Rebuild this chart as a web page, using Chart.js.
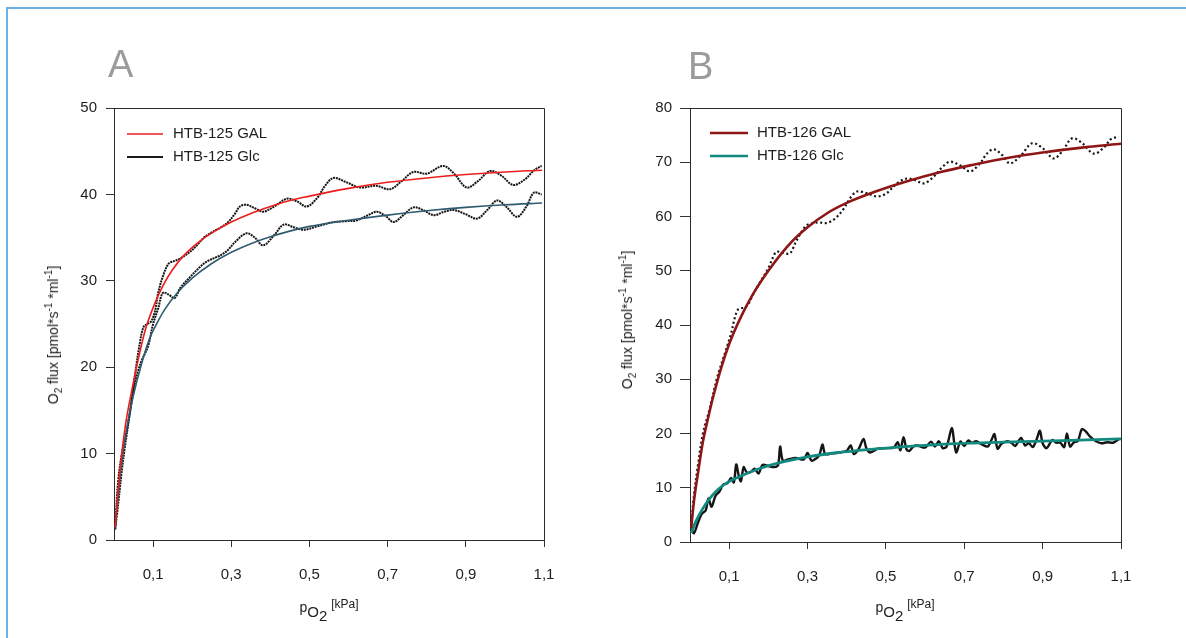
<!DOCTYPE html>
<html>
<head>
<meta charset="utf-8">
<script src="https://cdn.jsdelivr.net/npm/chart.js@4.4.1/dist/chart.umd.min.js"></script>
<style>
  body { margin: 0; background: #fff; font-family: "Liberation Sans", Arial, sans-serif; }
  #page { position: relative; width: 1186px; height: 638px; overflow: hidden; background: #fff; }
  .frame { position: absolute; left: 6px; top: 7px; width: 1300px; height: 800px; border: 2px solid #6cb2e4; }
  canvas { position: absolute; top: 0; }
  .panel { position: absolute; font-size: 38px; color: #9b9b9b; line-height: 1; }
  .ytitle { position: absolute; font-size: 14px; color: #222; white-space: nowrap;
            transform: translate(-50%, -50%) rotate(-90deg); }
  .xtitle { position: absolute; font-size: 14px; color: #222; white-space: nowrap; transform: translate(-50%, -50%); }
  sub, sup { font-size: 10px; line-height: 0; }
  .xtitle .o2 { font-size: 15px; position: relative; top: 5px; }
  .xtitle .o2 sub { font-size: 15px; }
  .xtitle .kpa { font-size: 12px; position: relative; top: -4px; }
</style>
</head>
<body>
<div id="page">
  <div class="frame"></div>
  <canvas id="chartA" width="600" height="638" style="left:0"></canvas>
  <canvas id="chartB" width="586" height="638" style="left:600px"></canvas>

  <div class="panel" style="left:108px; top:45px;">A</div>
  <div class="panel" style="left:688px; top:47px;">B</div>

  <div class="ytitle" style="left:53px; top:335px;">O<sub>2</sub> flux [pmol*s<sup>-1</sup> *ml<sup>-1</sup>]</div>
  <div class="ytitle" style="left:627px; top:320px;">O<sub>2</sub> flux [pmol*s<sup>-1</sup> *ml<sup>-1</sup>]</div>

  <div class="xtitle" style="left:329px; top:606px;">p<span class="o2">O<sub>2</sub></span> <span class="kpa">[kPa]</span></div>
  <div class="xtitle" style="left:905px; top:606px;">p<span class="o2">O<sub>2</sub></span> <span class="kpa">[kPa]</span></div>
</div>

<script>
// ---- shared axis ticks ----
const xTicks = [0.1, 0.3, 0.5, 0.7, 0.9, 1.1];
const yTicksA = [0, 10, 20, 30, 40, 50];
const yTicksB = [0, 10, 20, 30, 40, 50, 60, 70, 80];

// ---- panel A: HTB-125 ----
const legendA = ["HTB-125 GAL", "HTB-125 Glc"];

// measured traces (dotted black)
const galDataA_x = [0.003, 0.01, 0.02, 0.033, 0.045, 0.055, 0.065, 0.075, 0.085, 0.095, 0.105, 0.113, 0.125, 0.14, 0.155, 0.17, 0.19, 0.21, 0.23, 0.25, 0.27, 0.29, 0.31, 0.322, 0.339, 0.36, 0.382, 0.41, 0.442, 0.468, 0.493, 0.52, 0.54, 0.561, 0.59, 0.629, 0.67, 0.706, 0.735, 0.766, 0.8, 0.842, 0.87, 0.902, 0.93, 0.962, 0.99, 1.021, 1.05, 1.075, 1.094];
const galDataA_y = [1.2, 6.5, 10.0, 12.8, 16.0, 19.5, 22.5, 24.6, 25.0, 25.3, 26.5, 28.6, 30.5, 32.0, 32.3, 32.6, 33.2, 34.0, 35.0, 35.6, 36.1, 36.7, 37.8, 38.6, 38.8, 38.4, 38.0, 38.6, 39.5, 39.2, 38.6, 39.6, 41.0, 41.9, 41.5, 40.8, 41.0, 40.6, 41.5, 42.6, 42.4, 43.3, 42.4, 40.8, 41.5, 42.7, 42.2, 41.1, 41.7, 42.8, 43.3];

const glcDataA_x = [0.003, 0.008, 0.02, 0.028, 0.04, 0.049, 0.06, 0.071, 0.087, 0.1, 0.113, 0.125, 0.14, 0.155, 0.17, 0.194, 0.22, 0.24, 0.27, 0.29, 0.31, 0.339, 0.36, 0.382, 0.41, 0.434, 0.46, 0.485, 0.52, 0.561, 0.595, 0.621, 0.65, 0.672, 0.695, 0.715, 0.74, 0.766, 0.79, 0.818, 0.845, 0.869, 0.9, 0.929, 0.955, 0.98, 1.005, 1.031, 1.055, 1.074, 1.094];
const glcDataA_y = [1.3, 3.1, 8.0, 10.8, 14.5, 17.2, 19.3, 20.8, 22.4, 25.0, 26.8, 28.6, 28.4, 28.0, 29.2, 30.4, 31.6, 32.3, 32.9, 33.5, 34.5, 35.5, 35.0, 34.1, 35.3, 36.5, 36.2, 35.9, 36.3, 36.8, 36.9, 37.0, 37.6, 38.0, 37.5, 36.8, 37.6, 38.5, 38.2, 37.6, 38.0, 38.2, 37.7, 37.2, 38.2, 39.3, 38.5, 37.4, 38.6, 40.2, 40.0];

// fitted curves
const galFitA_x = [0.003, 0.01, 0.02, 0.03, 0.045, 0.06, 0.08, 0.1, 0.125, 0.15, 0.18, 0.22, 0.26, 0.3, 0.35, 0.4, 0.45, 0.5, 0.6, 0.7, 0.8, 0.9, 1.0, 1.095];
const galFitA_y = [1.5, 5.5, 10.0, 13.5, 17.2, 20.5, 24.3, 26.9, 29.4, 31.3, 33.0, 34.6, 35.8, 36.8, 37.8, 38.6, 39.3, 39.8, 40.7, 41.4, 41.9, 42.3, 42.6, 42.8];

const glcFitA_x = [0.003, 0.01, 0.02, 0.035, 0.05, 0.07, 0.09, 0.11, 0.13, 0.16, 0.2, 0.25, 0.3, 0.35, 0.4, 0.5, 0.6, 0.7, 0.8, 0.9, 1.0, 1.095];
const glcFitA_y = [1.3, 5.0, 9.0, 13.5, 16.8, 20.3, 23.2, 25.1, 26.7, 28.5, 30.3, 32.0, 33.3, 34.3, 35.1, 36.3, 37.0, 37.6, 38.1, 38.5, 38.8, 39.0];

// ---- panel B: HTB-126 ----
const legendB = ["HTB-126 GAL", "HTB-126 Glc"];

const galDataB_x = [0.003, 0.01, 0.02, 0.033, 0.05, 0.07, 0.09, 0.105, 0.115, 0.122, 0.13, 0.14, 0.15, 0.16, 0.18, 0.2, 0.212, 0.221, 0.238, 0.255, 0.27, 0.285, 0.298, 0.315, 0.33, 0.349, 0.37, 0.39, 0.41, 0.426, 0.45, 0.477, 0.5, 0.53, 0.553, 0.575, 0.596, 0.62, 0.645, 0.664, 0.69, 0.715, 0.74, 0.758, 0.775, 0.797, 0.817, 0.845, 0.873, 0.9, 0.928, 0.95, 0.975, 1.0, 1.03, 1.055, 1.075, 1.094];
const galDataB_y = [3.0, 8.5, 14.0, 20.0, 24.5, 30.5, 35.0, 38.5, 41.5, 42.8, 43.1, 43.2, 44.0, 45.5, 48.0, 50.5, 52.5, 53.5, 53.3, 53.2, 55.3, 57.2, 58.4, 58.8, 58.9, 58.8, 59.6, 61.2, 63.5, 64.6, 64.3, 63.7, 64.2, 66.2, 67.0, 66.7, 66.1, 67.2, 69.2, 70.1, 69.4, 68.3, 69.8, 71.6, 72.4, 71.3, 69.8, 71.3, 73.5, 72.6, 70.7, 72.0, 74.4, 73.6, 71.6, 72.6, 74.3, 74.7];

const glcDataB_x = [0.003, 0.01, 0.02, 0.03, 0.04, 0.047, 0.055, 0.065, 0.075, 0.085, 0.095, 0.105, 0.112, 0.118, 0.125, 0.13, 0.137, 0.145, 0.155, 0.165, 0.175, 0.185, 0.2, 0.215, 0.225, 0.23, 0.237, 0.25, 0.27, 0.29, 0.3, 0.31, 0.32, 0.33, 0.338, 0.345, 0.36, 0.38, 0.4, 0.41, 0.418, 0.43, 0.443, 0.45, 0.46, 0.48, 0.5, 0.52, 0.53, 0.537, 0.545, 0.553, 0.56, 0.57, 0.58, 0.6, 0.615, 0.625, 0.635, 0.645, 0.655, 0.668, 0.675, 0.68, 0.69, 0.7, 0.71, 0.72, 0.73, 0.745, 0.76, 0.77, 0.777, 0.785, 0.795, 0.81, 0.82, 0.83, 0.845, 0.855, 0.865, 0.875, 0.885, 0.893, 0.9, 0.91, 0.925, 0.935, 0.945, 0.955, 0.962, 0.97, 0.98, 0.99, 1.0, 1.01, 1.02, 1.035, 1.05, 1.065, 1.08, 1.095];
const glcDataB_y = [2.5, 1.6, 3.5, 5.2, 5.8, 8.0, 6.5, 8.5, 9.3, 10.6, 10.8, 11.8, 11.0, 14.3, 12.0, 11.2, 13.8, 12.8, 12.9, 13.5, 12.6, 14.2, 14.0, 13.8, 14.2, 17.6, 15.0, 15.2, 15.5, 15.2, 16.4, 15.0, 15.3, 16.0, 18.0, 16.2, 16.3, 16.5, 16.8, 17.8, 16.2, 17.1, 19.0, 17.3, 16.5, 17.2, 17.3, 17.4, 18.4, 16.9, 19.3, 17.0, 16.8, 17.6, 17.8, 17.4, 18.5, 17.6, 18.6, 17.3, 17.6, 21.0, 18.0, 16.5, 18.5, 17.7, 18.7, 18.3, 18.6, 18.0, 17.6, 18.9, 19.9, 17.2, 18.1, 18.6, 18.3, 17.7, 19.2, 17.8, 18.2, 17.5, 19.0, 20.5, 18.2, 17.3, 18.8, 18.3, 18.3, 17.5, 20.0, 17.6, 18.4, 18.6, 20.8, 20.4, 19.5, 18.6, 18.2, 18.4, 18.3, 19.0];

const galFitB_x = [0.003, 0.01, 0.02, 0.033, 0.045, 0.06, 0.08, 0.1, 0.13, 0.16, 0.2, 0.25, 0.3, 0.35, 0.4, 0.47, 0.55, 0.64, 0.72, 0.81, 0.9, 1.0, 1.1];
const galFitB_y = [2.5, 7.5, 12.5, 18.5, 22.5, 27.0, 32.2, 36.5, 41.5, 45.6, 50.0, 54.6, 58.0, 60.6, 62.5, 64.5, 66.4, 68.2, 69.5, 70.8, 71.8, 72.7, 73.4];

const glcFitB_x = [0.003, 0.015, 0.033, 0.05, 0.07, 0.094, 0.128, 0.18, 0.24, 0.3, 0.38, 0.5, 0.64, 0.8, 0.95, 1.1];
const glcFitB_y = [1.7, 3.8, 6.2, 8.0, 9.6, 10.9, 12.1, 13.6, 14.8, 15.7, 16.5, 17.3, 18.0, 18.4, 18.7, 19.0];

const FONT = '"Liberation Sans", Arial, sans-serif';

function pts(xs, ys) {
  return xs.map((x, i) => ({ x: x, y: ys[i] }));
}

// top and right border of the plot box
const boxPlugin = {
  id: 'box',
  afterDraw(chart) {
    const a = chart.chartArea, ctx = chart.ctx;
    ctx.save();
    ctx.strokeStyle = '#2b2b2b';
    ctx.lineWidth = 1;
    ctx.beginPath();
    ctx.moveTo(a.left, a.top + 0.5);
    ctx.lineTo(a.right + 0.5, a.top + 0.5);
    ctx.lineTo(a.right + 0.5, a.bottom);
    ctx.stroke();
    ctx.restore();
  }
};

// legend drawn inside the plot box
const innerLegend = {
  id: 'innerLegend',
  afterDraw(chart, args, opts) {
    const a = chart.chartArea, ctx = chart.ctx;
    ctx.save();
    ctx.font = '15px ' + FONT;
    ctx.textBaseline = 'middle';
    opts.labels.forEach((label, i) => {
      const y = a.top + opts.top + i * opts.rowGap;
      const x0 = a.left + opts.left;
      ctx.strokeStyle = opts.colors[i];
      ctx.lineWidth = opts.widths[i];
      ctx.beginPath();
      ctx.moveTo(x0, y);
      ctx.lineTo(x0 + opts.lineLen, y);
      ctx.stroke();
      ctx.fillStyle = '#1e1e1e';
      ctx.fillText(label, x0 + opts.lineLen + opts.gap, y);
    });
    ctx.restore();
  }
};

function makeChart(canvasId, setup) {
  return new Chart(document.getElementById(canvasId), {
    type: 'scatter',
    data: { datasets: setup.datasets },
    options: {
      responsive: false,
      animation: false,
      devicePixelRatio: 1,
      layout: { padding: { top: 108, right: setup.rightPad, left: 0, bottom: 0 } },
      elements: { point: { radius: 0, hoverRadius: 0 } },
      plugins: {
        legend: { display: false },
        tooltip: { enabled: false },
        innerLegend: setup.legend
      },
      scales: {
        x: {
          type: 'linear',
          min: 0,
          max: 1.1,
          afterBuildTicks: s => { s.ticks = xTicks.map(v => ({ value: v })); },
          afterFit: s => { s.height = setup.xAxisHeight; },
          grid: { drawOnChartArea: false, drawTicks: true, tickLength: 7, color: '#333', lineWidth: 1 },
          border: { color: '#2b2b2b', width: 1 },
          ticks: {
            autoSkip: false, maxRotation: 0, padding: 19, color: '#1e1e1e',
            font: { family: FONT, size: 15 },
            callback: v => v.toFixed(1).replace('.', ',')
          }
        },
        y: {
          min: 0,
          max: setup.yMax,
          afterBuildTicks: s => { s.ticks = setup.yTicks.map(v => ({ value: v })); },
          afterFit: s => { s.width = setup.yAxisWidth; },
          grid: { drawOnChartArea: false, drawTicks: true, tickLength: setup.yTickLen, color: '#333', lineWidth: 1 },
          border: { color: '#2b2b2b', width: 1 },
          ticks: {
            padding: setup.yPad, color: '#1e1e1e',
            font: { family: FONT, size: 15 },
            callback: v => String(v)
          }
        }
      }
    },
    plugins: [boxPlugin, innerLegend]
  });
}

makeChart('chartA', {
  rightPad: 56, xAxisHeight: 98, yAxisWidth: 114, yTickLen: 8, yPad: 9,
  yMax: 50, yTicks: yTicksA,
  legend: { labels: legendA, colors: ['#ee1c1c', '#1a1a1a'], widths: [1.6, 2], left: 13, top: 26, rowGap: 23, lineLen: 36, gap: 10 },
  datasets: [
    { label: 'HTB-125 GAL fit', data: pts(galFitA_x, galFitA_y), showLine: true, borderColor: '#ee1c1c', borderWidth: 1.6, tension: 0.4, cubicInterpolationMode: 'monotone', order: 0 },
    { label: 'HTB-125 Glc fit', data: pts(glcFitA_x, glcFitA_y), showLine: true, borderColor: '#2f5b70', borderWidth: 1.6, tension: 0.4, cubicInterpolationMode: 'monotone', order: 0 },
    { label: 'HTB-125 GAL', data: pts(galDataA_x, galDataA_y), showLine: true, borderColor: '#151515', borderWidth: 2, borderDash: [2, 0.8], tension: 0.35, order: 1 },
    { label: 'HTB-125 Glc', data: pts(glcDataA_x, glcDataA_y), showLine: true, borderColor: '#151515', borderWidth: 2, borderDash: [2, 0.8], tension: 0.35, order: 1 }
  ]
});

makeChart('chartB', {
  rightPad: 65, xAxisHeight: 96, yAxisWidth: 90, yTickLen: 10, yPad: 8,
  yMax: 80, yTicks: yTicksB,
  legend: { labels: legendB, colors: ['#8e1616', '#138a80'], widths: [2.6, 2.6], left: 20, top: 25, rowGap: 23, lineLen: 38, gap: 9 },
  datasets: [
    { label: 'HTB-126 GAL fit', data: pts(galFitB_x, galFitB_y), showLine: true, borderColor: '#8e1616', borderWidth: 2.6, tension: 0.4, cubicInterpolationMode: 'monotone', order: 0 },
    { label: 'HTB-126 Glc fit', data: pts(glcFitB_x, glcFitB_y), showLine: true, borderColor: '#138a80', borderWidth: 2.8, tension: 0.4, cubicInterpolationMode: 'monotone', order: 0 },
    { label: 'HTB-126 GAL', data: pts(galDataB_x, galDataB_y), showLine: true, borderColor: '#151515', borderWidth: 2.2, borderDash: [2, 2.6], tension: 0.35, order: 1 },
    { label: 'HTB-126 Glc', data: pts(glcDataB_x, glcDataB_y), showLine: true, borderColor: '#151515', borderWidth: 2.4, tension: 0.3, order: 1 }
  ]
});
</script>
</body>
</html>
